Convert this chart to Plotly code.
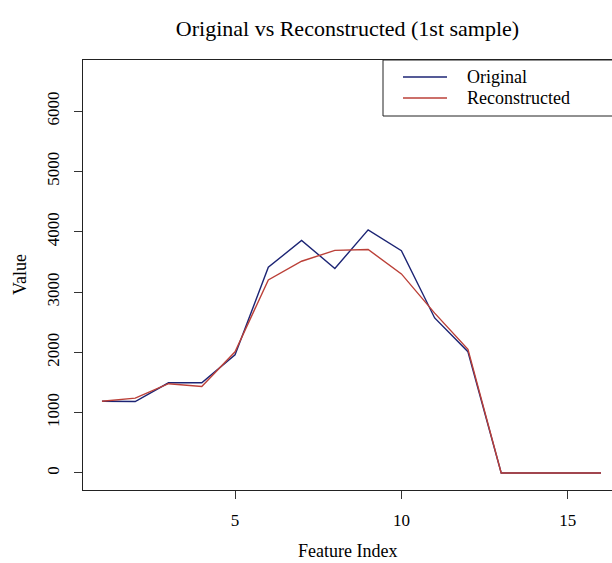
import plotly.graph_objects as go

feature_index = list(range(1, 17))
original = [1190, 1185, 1495, 1495, 1960, 3410, 3855, 3390, 4030, 3685, 2570, 2010, 0, 0, 0, 0]
reconstructed = [1190, 1240, 1480, 1435, 2010, 3200, 3510, 3690, 3705, 3300, 2650, 2050, 0, 0, 0, 0]
x_ticks = [5, 10, 15]
y_ticks = [0, 1000, 2000, 3000, 4000, 5000, 6000]

BLUE = "#1c2474"
RED = "#bb4038"
FONT = "Liberation Serif"

fig = go.Figure()
fig.add_trace(go.Scatter(x=feature_index, y=original, mode="lines", name="Original",
                         line=dict(color=BLUE, width=1.4), showlegend=False))
fig.add_trace(go.Scatter(x=feature_index, y=reconstructed, mode="lines", name="Reconstructed",
                         line=dict(color=RED, width=1.4), showlegend=False))

L, T, B = 83, 60, 73
W, H = 612, 563
pw = W - L
ph = H - T - B

def px(x):
    return (x - L) / pw

def py(y):
    return (H - B - y) / ph

fig.update_layout(
    width=W, height=H,
    margin=dict(l=L, r=0, t=T, b=B, pad=0),
    paper_bgcolor="white", plot_bgcolor="white",
    font=dict(family=FONT, color="black", size=17),
    title=dict(text="Original vs Reconstructed (1st sample)", x=0.5, xref="paper",
               y=1 - 28 / H, yref="container", xanchor="center", yanchor="middle",
               font=dict(family=FONT, size=22, color="black")),
    xaxis=dict(range=[0.43, 16.33], tickvals=x_ticks, ticks="outside", ticklen=8,
               tickcolor="#333", showline=True, mirror=True, linecolor="#222", linewidth=1,
               showgrid=False, zeroline=False, ticklabelstandoff=7,
               tickfont=dict(family=FONT, size=17)),
    yaxis=dict(range=[-282, 6846], tickvals=y_ticks, ticks="outside", ticklen=8,
               tickcolor="#333", tickangle=-90, showline=True, mirror=False,
               linecolor="#222", linewidth=1, showgrid=False, zeroline=False,
               ticklabelstandoff=8, tickfont=dict(family=FONT, size=17)),
    showlegend=False,
)

# axis titles
fig.add_annotation(text="Feature Index", xref="paper", yref="paper", x=0.5, y=py(551),
                   showarrow=False, xanchor="center", yanchor="middle",
                   font=dict(family=FONT, size=18))
fig.add_annotation(text="Value", xref="paper", yref="paper", x=px(20), y=0.5,
                   showarrow=False, xanchor="center", yanchor="middle", textangle=-90,
                   font=dict(family=FONT, size=18))

# legend box (R style, top-right inset)
fig.add_shape(type="rect", xref="paper", yref="paper", x0=px(383), x1=px(640),
              y0=py(116), y1=py(60), line=dict(color="#222", width=1), fillcolor="white",
              layer="above")
for name, color, yy in [("Original", BLUE, 77), ("Reconstructed", RED, 98)]:
    fig.add_shape(type="line", xref="paper", yref="paper", x0=px(403), x1=px(447),
                  y0=py(yy), y1=py(yy), line=dict(color=color, width=1.4), layer="above")
    fig.add_annotation(text=name, xref="paper", yref="paper", x=px(465), y=py(yy),
                       showarrow=False, xanchor="left", yanchor="middle",
                       font=dict(family=FONT, size=18))

fig.write_html("out.html")
